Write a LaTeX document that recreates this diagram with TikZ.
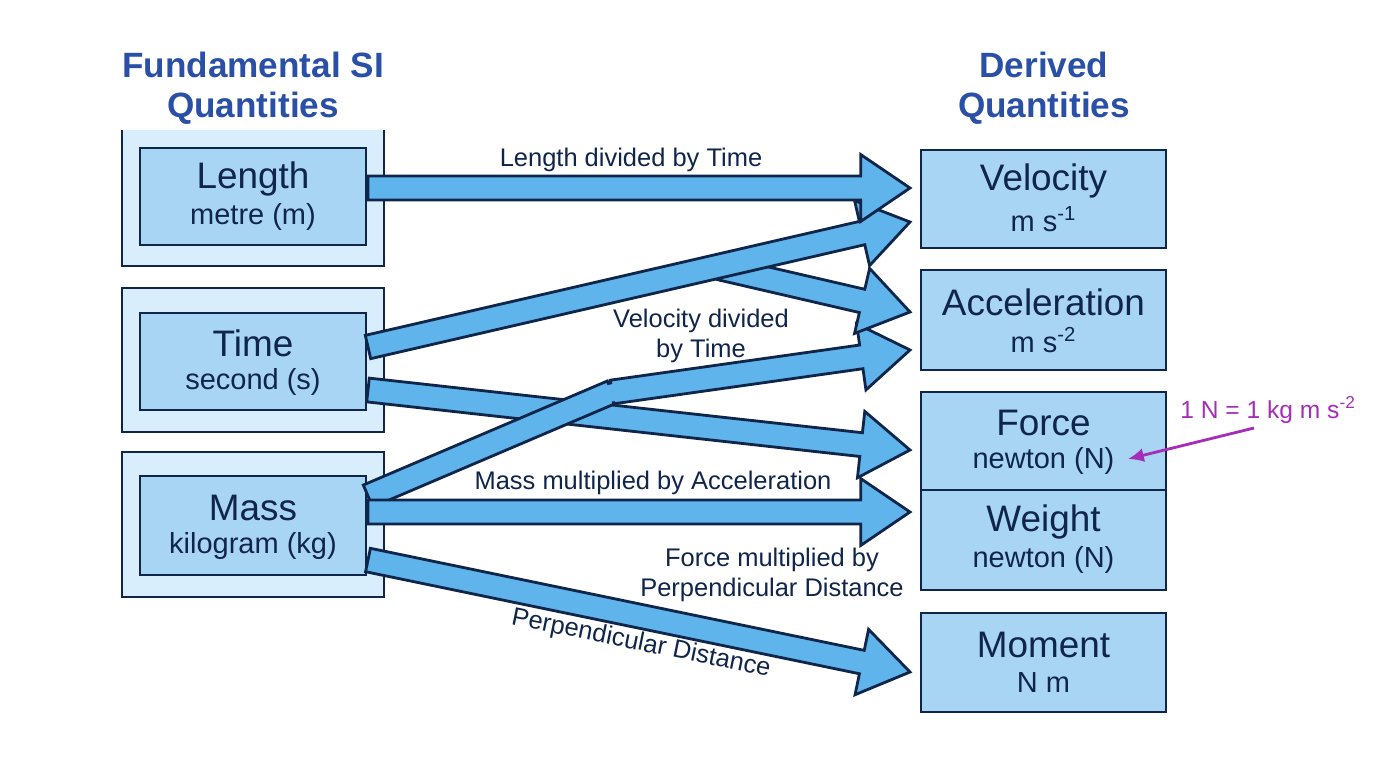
\documentclass[tikz,border=0pt]{standalone}
\usepackage{fontspec}
\setmainfont{Liberation Sans}
\usetikzlibrary{calc,arrows.meta}
\definecolor{navy}{HTML}{10254A}
\definecolor{boxf}{HTML}{A9D5F5}
\definecolor{outf}{HTML}{D8EEFC}
\definecolor{arrf}{HTML}{5FB4EC}
\definecolor{ttl}{HTML}{2A4FA6}
\definecolor{mag}{HTML}{A52DB8}
\newcommand\fatarrow[2]{%
 \fill[arrf,draw=navy,line width=1.6pt,line join=miter]
 ($(#1)!6.8pt!90:(#2)$) -- ($($(#2)!28pt!(#1)$)!6.8pt!-90:(#1)$) --
 ($($(#2)!28pt!(#1)$)!19pt!-90:(#1)$) -- (#2) --
 ($($(#2)!28pt!(#1)$)!19pt!90:(#1)$) -- ($($(#2)!28pt!(#1)$)!6.8pt!90:(#1)$) --
 ($(#1)!6.8pt!-90:(#2)$) -- cycle;}
\begin{document}
\begin{tikzpicture}[x=0.02cm,y=-0.02cm,
 outer/.style={draw=navy,fill=outf,line width=1.6pt},
 inner/.style={draw=navy,fill=boxf,line width=1.6pt,align=center,inner sep=0pt},
 lbl/.style={font=\fontsize{14.5}{17}\selectfont,text=navy,align=center},
 ttl/.style={font=\fontsize{20}{23}\selectfont\bfseries,text=ttl,align=center}]
\useasboundingbox (0,0) rectangle (1376,768);
% left
\draw[outer] (122,122) rectangle (384,266);
\draw[outer] (122,288) rectangle (384,432);
\draw[outer] (122,452) rectangle (384,597);
\node[ttl,fill=white,inner sep=3pt] (t1) at (253,88) {Fundamental SI\\Quantities};
\newcommand\bx[5]{\node[inner,minimum width=#3*0.02cm,minimum height=#4*0.02cm] (#5) at (#1,#2) {};}
\bx{253}{196.5}{226}{97}{len}
\bx{253}{361.5}{226}{97}{tim}
\bx{253}{525.5}{226}{99}{mas}
\bx{1043.5}{199}{245}{98}{vel}
\bx{1043.5}{320}{245}{100}{acc}
\bx{1043.5}{441}{245}{98}{for}
\bx{1043.5}{540}{245}{100}{wei}
\bx{1043.5}{662.5}{245}{99}{mom}
\newcommand\bt[3]{%
 \node[text=navy,font=\fontsize{21}{24}\selectfont] at ($(#1)+(0,-18)$) {#2};
 \node[text=navy,font=\fontsize{16.5}{19}\selectfont] at ($(#1)+(0,20)$) {#3};}
\bt{len}{Length}{metre (m)}
\bt{tim}{Time}{second (s)}
\bt{mas}{Mass}{kilogram (kg)}
\bt{vel}{Velocity}{m s\textsuperscript{-1}}
\bt{acc}{Acceleration}{m s\textsuperscript{-2}}
\bt{for}{Force}{newton (N)}
\bt{wei}{Weight}{newton (N)}
\bt{mom}{Moment}{N m}
\node[ttl] (t2) at (1044,88) {Derived\\Quantities};
% arrows
\coordinate (a1) at (368,188); \coordinate (b1) at (910,188);
\coordinate (a2) at (368,347); \coordinate (b2) at (910,222);
\coordinate (a3) at (720,268); \coordinate (b3) at (910,312);
\coordinate (a4) at (368,390); \coordinate (b4) at (910,450);
\coordinate (a5) at (368,496); \coordinate (m5) at (612,392); \coordinate (b5) at (910,350);
\coordinate (a6) at (368,512); \coordinate (b6) at (910,512);
\coordinate (a7) at (368,560); \coordinate (b7) at (910,672);
\fatarrow{a4}{b4}
\fill[arrf,draw=navy,line width=1.6pt] ($(a5)!6.8pt!90:(m5)$) -- ($(m5)!6.8pt!-90:(a5)$) -- ($(m5)!6.8pt!90:(a5)$) -- ($(a5)!6.8pt!-90:(m5)$) -- cycle;
\fatarrow{m5}{b5}
\fill[arrf] ($(m5)+(-14,-4)$) -- ($(m5)+(4,-9)$) -- ($(m5)+(6,9)$) -- ($(m5)+(-10,10)$) -- cycle;
\fatarrow{a3}{b3}
\fatarrow{a2}{b2}
\fatarrow{a1}{b1}
\fatarrow{a6}{b6}
\fatarrow{a7}{b7}
% labels
\node[lbl] at (631,160) {Length divided by Time};
\node[lbl] at (701,336) {Velocity divided\\by Time};
\node[lbl] at (653,483) {Mass multiplied by Acceleration};
\node[lbl] at (772,575) {Force multiplied by\\Perpendicular Distance};
\node[lbl,rotate=-11.5] at (641,644) {Perpendicular Distance};
\node[font=\fontsize{14}{16}\selectfont,text=mag] (eq) at (1268,410) {1 N = 1 kg m s\textsuperscript{-2}};
\coordinate (e1) at (1254,428); \coordinate (e2) at (1128,459);
\draw[mag,line width=1.6pt,-{Latex[length=9pt,width=8pt]}] (e1) -- (e2);
\end{tikzpicture}
\end{document}
